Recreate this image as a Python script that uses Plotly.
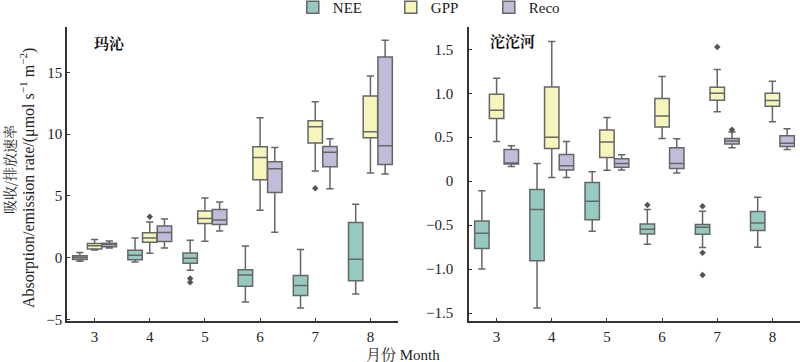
import plotly.graph_objects as go

months = [3, 4, 5, 6, 7, 8]
series_names = ["NEE", "GPP", "Reco"]
series_colors = ["#96cac1", "#f6f5bc", "#c1bdd8"]

# ---- 玛沁 (Maqin) ----
mq_nee_low = [-0.30, -0.35, -1.03, -3.60, -4.09, -2.95]
mq_nee_q1 = [-0.15, -0.17, -0.46, -2.33, -3.08, -1.87]
mq_nee_med = [0.00, 0.19, -0.06, -1.41, -2.27, -0.14]
mq_nee_q3 = [0.15, 0.59, 0.37, -0.98, -1.46, 2.84]
mq_nee_high = [0.40, 1.59, 1.40, 0.94, 0.65, 4.32]
mq_nee_out_m = [5, 5]
mq_nee_out_v = [-1.70, -2.00]

mq_gpp_low = [0.62, 0.35, 1.32, 3.84, 7.02, 6.86]
mq_gpp_q1 = [0.70, 1.24, 2.76, 6.30, 9.29, 9.70]
mq_gpp_med = [0.95, 1.59, 3.16, 8.11, 10.59, 10.19]
mq_gpp_q3 = [1.13, 2.00, 3.78, 8.97, 11.08, 13.08]
mq_gpp_high = [1.46, 2.89, 4.83, 11.32, 12.62, 14.70]
mq_gpp_out_m = [4, 7]
mq_gpp_out_v = [3.30, 5.62]

mq_reco_low = [0.78, 0.78, 2.16, 2.05, 5.57, 6.76]
mq_reco_q1 = [0.88, 1.30, 2.68, 5.27, 7.35, 7.54]
mq_reco_med = [1.05, 2.03, 3.05, 7.19, 8.54, 9.05]
mq_reco_q3 = [1.16, 2.56, 3.89, 7.76, 9.00, 16.24]
mq_reco_high = [1.35, 3.13, 4.51, 8.92, 9.62, 17.60]
mq_reco_out_m = []
mq_reco_out_v = []

# ---- 沱沱河 (Tuotuohe) ----
tt_nee_low = [-1.00, -1.444, -0.57, -0.717, -0.755, -0.751]
tt_nee_q1 = [-0.766, -0.906, -0.44, -0.60, -0.604, -0.562]
tt_nee_med = [-0.592, -0.323, -0.229, -0.547, -0.524, -0.475]
tt_nee_q3 = [-0.452, -0.096, -0.014, -0.486, -0.494, -0.346]
tt_nee_high = [-0.11, 0.202, 0.108, -0.323, -0.343, -0.184]
tt_nee_out_m = [6, 7, 7, 7]
tt_nee_out_v = [-0.27, -0.286, -0.815, -1.069]

tt_gpp_low = [0.452, 0.043, 0.123, 0.486, 0.789, 0.675]
tt_gpp_q1 = [0.713, 0.372, 0.27, 0.615, 0.921, 0.853]
tt_gpp_med = [0.808, 0.50, 0.445, 0.74, 1.00, 0.917]
tt_gpp_q3 = [0.99, 1.07, 0.583, 0.94, 1.069, 1.00]
tt_gpp_high = [1.17, 1.59, 0.725, 1.19, 1.27, 1.137]
tt_gpp_out_m = [7]
tt_gpp_out_v = [1.527]

tt_reco_low = [0.168, 0.043, 0.127, 0.093, 0.38, 0.361]
tt_reco_q1 = [0.195, 0.127, 0.157, 0.145, 0.422, 0.395]
tt_reco_med = [0.202, 0.176, 0.202, 0.202, 0.456, 0.43]
tt_reco_q3 = [0.361, 0.304, 0.255, 0.38, 0.486, 0.516]
tt_reco_high = [0.403, 0.452, 0.301, 0.482, 0.558, 0.596]
tt_reco_out_m = [7]
tt_reco_out_v = [0.585]

left_ticks = [-5, 0, 5, 10, 15]
left_ticktext = ["\u22125", "0", "5", "10", "15"]
right_ticks = [-1.5, -1.0, -0.5, 0, 0.5, 1.0, 1.5]
right_ticktext = ["\u22121.5", "\u22121.0", "\u22120.5", "0", "0.5", "1.0", "1.5"]

panels = [
    dict(title="玛沁", xaxis="x", yaxis="y",
         stats=[
             (mq_nee_low, mq_nee_q1, mq_nee_med, mq_nee_q3, mq_nee_high, mq_nee_out_m, mq_nee_out_v),
             (mq_gpp_low, mq_gpp_q1, mq_gpp_med, mq_gpp_q3, mq_gpp_high, mq_gpp_out_m, mq_gpp_out_v),
             (mq_reco_low, mq_reco_q1, mq_reco_med, mq_reco_q3, mq_reco_high, mq_reco_out_m, mq_reco_out_v),
         ]),
    dict(title="沱沱河", xaxis="x2", yaxis="y2",
         stats=[
             (tt_nee_low, tt_nee_q1, tt_nee_med, tt_nee_q3, tt_nee_high, tt_nee_out_m, tt_nee_out_v),
             (tt_gpp_low, tt_gpp_q1, tt_gpp_med, tt_gpp_q3, tt_gpp_high, tt_gpp_out_m, tt_gpp_out_v),
             (tt_reco_low, tt_reco_q1, tt_reco_med, tt_reco_q3, tt_reco_high, tt_reco_out_m, tt_reco_out_v),
         ]),
]

W, H = 800, 362
LINE = "#666666"
FONT = "Liberation Serif, Noto Serif CJK SC, Noto Sans CJK SC, serif"
CJK = "Noto Serif CJK SC, Noto Sans CJK SC"
dodge = 0.8 / 3
box_w = dodge * 0.98

fig = go.Figure()
for pi, p in enumerate(panels):
    for si, (lo, q1, med, q3, hi, om, ov) in enumerate(p["stats"]):
        off = (si - 1) * dodge
        fig.add_trace(go.Box(
            x=[m + off for m in months], lowerfence=lo, q1=q1, median=med, q3=q3, upperfence=hi,
            width=box_w, whiskerwidth=0.5, fillcolor=series_colors[si],
            line=dict(color=LINE, width=1.5), name=series_names[si],
            legendgroup=series_names[si], showlegend=(pi == 0),
            xaxis=p["xaxis"], yaxis=p["yaxis"], hoverinfo="skip",
        ))
        if om:
            fig.add_trace(go.Scatter(
                x=[m + off for m in om], y=ov, mode="markers",
                marker=dict(symbol="diamond", size=5, color="#555555"),
                showlegend=False, xaxis=p["xaxis"], yaxis=p["yaxis"], hoverinfo="skip",
            ))

ydom = [(H - 321) / H, (H - 27) / H]
axis_common = dict(showline=True, linecolor="#333333", linewidth=1.5, ticks="inside", ticklen=3,
                   tickcolor="#333333", showgrid=False, zeroline=False,
                   tickfont=dict(family=FONT, size=15, color="#222222"))

fig.update_layout(
    width=W, height=H, margin=dict(l=0, r=0, t=0, b=0, autoexpand=False),
    plot_bgcolor="white", paper_bgcolor="white",
    boxmode="overlay",
    xaxis=dict(domain=[67 / W, 398 / W], range=[2.5, 8.5], tickvals=months, anchor="y",
               ticklabelstandoff=1, **axis_common),
    yaxis=dict(domain=ydom, range=[-5.14, 18.68], tickvals=left_ticks, ticktext=left_ticktext,
               anchor="x", **axis_common),
    xaxis2=dict(domain=[469 / W, 1.0], range=[2.5, 8.5], tickvals=months, anchor="y2",
                ticklabelstandoff=1, **axis_common),
    yaxis2=dict(domain=ydom, range=[-1.591, 1.754], tickvals=right_ticks, ticktext=right_ticktext,
                anchor="x2", ticklabelstandoff=11, **axis_common),
    legend=dict(orientation="h", x=0.366, y=1.025, xanchor="left", yanchor="top",
                font=dict(family=FONT, size=15, color="#222222"),
                entrywidth=53, entrywidthmode="pixels", bgcolor="rgba(0,0,0,0)"),
    font=dict(family=FONT),
)

fig.add_annotation(text="<b>玛沁</b>", xref="paper", yref="paper", x=92 / W, y=(H - 42) / H,
                   xanchor="left", yanchor="middle", showarrow=False,
                   font=dict(family=CJK, size=15, color="#111111"))
fig.add_annotation(text="<b>沱沱河</b>", xref="paper", yref="paper", x=488 / W, y=(H - 41) / H,
                   xanchor="left", yanchor="middle", showarrow=False,
                   font=dict(family=CJK, size=15, color="#111111"))
fig.add_annotation(text="吸收/排放速率",
                   xref="paper", yref="paper", x=9 / W, y=(H - 170) / H, textangle=-90,
                   xanchor="center", yanchor="middle", showarrow=False,
                   font=dict(family=CJK, size=14, color="#222222"))
fig.add_annotation(text="Absorption/emission rate/(μmol s<sup>−1</sup> m<sup>−2</sup>)",
                   xref="paper", yref="paper", x=27 / W, y=(H - 178) / H, textangle=-90,
                   xanchor="center", yanchor="middle", showarrow=False,
                   font=dict(family=FONT, size=16, color="#222222"))
fig.add_annotation(text="月份 Month", xref="paper", yref="paper", x=403 / W, y=(H - 355) / H,
                   xanchor="center", yanchor="middle", showarrow=False,
                   font=dict(family=FONT, size=15, color="#222222"))

fig.write_html("out.html", post_script="document.body.style.margin='0';",
               config={"displayModeBar": False})
